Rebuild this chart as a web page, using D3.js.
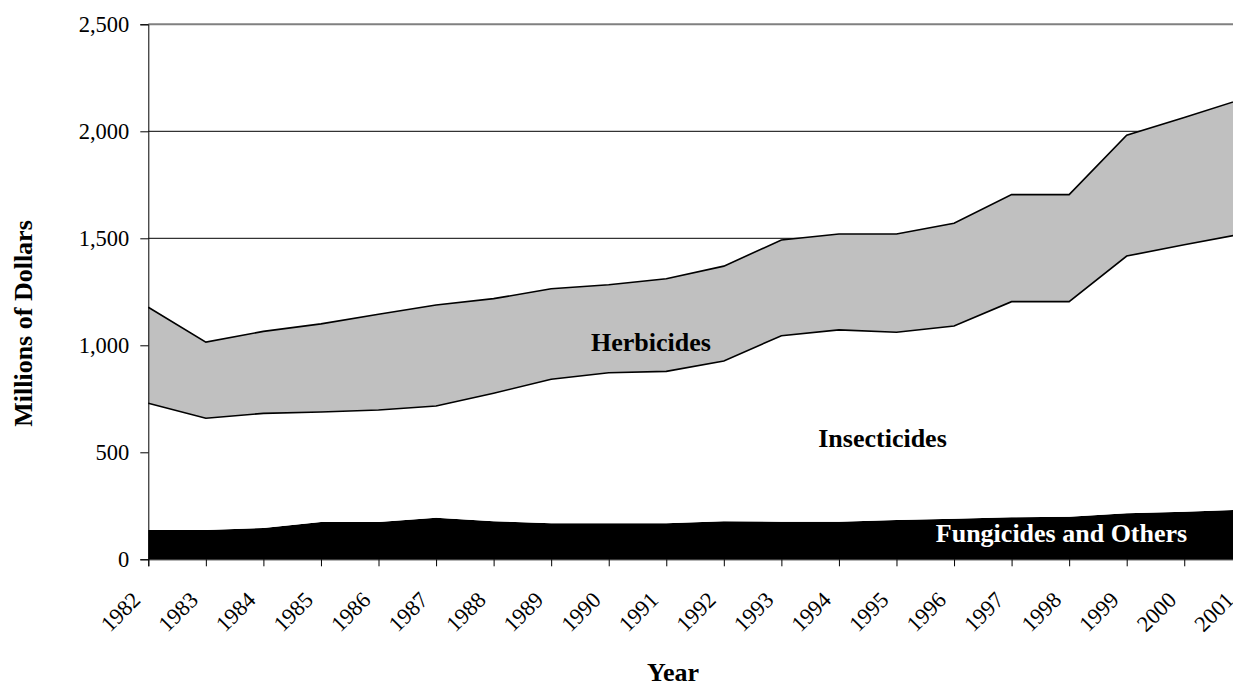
<!DOCTYPE html>
<html lang="en">
<head>
<meta charset="UTF-8">
<title>Pesticide expenditures</title>
<script src="https://cdnjs.cloudflare.com/ajax/libs/d3/7.8.5/d3.min.js"></script>
<style>
    body { margin: 0; background: #fff; }
    svg { display: block; font-family: "Liberation Serif", "Times New Roman", serif; }
</style>
</head>
<body>
<script>
    // values (millions of dollars)
    let years = [1982, 1983, 1984, 1985, 1986, 1987, 1988, 1989, 1990, 1991,
                 1992, 1993, 1994, 1995, 1996, 1997, 1998, 1999, 2000, 2001]
    let fungicides = [137, 137, 146, 174, 174, 194, 178, 168, 168, 168,
                      178, 176, 176, 184, 190, 196, 199, 215, 222, 232]
    let insecticides = [592, 522, 536, 514, 524, 522, 598, 673, 704, 710,
                        749, 869, 896, 877, 900, 1008, 1005, 1202, 1248, 1288]
    let herbicides = [449, 356, 383, 412, 447, 472, 442, 423, 411, 433,
                      443, 447, 448, 459, 480, 500, 500, 565, 595, 630]
    let yTicks = [0, 500, 1000, 1500, 2000, 2500]

    let width = 1233
    let height = 685

    let rows = years.map((y, i) => ({
        year: y,
        fungicides: fungicides[i],
        insecticides: insecticides[i],
        herbicides: herbicides[i]
    }))
    let keys = ["fungicides", "insecticides", "herbicides"]
    let fills = { fungicides: "#000", insecticides: "#fff", herbicides: "#c0c0c0" }
    let series = d3.stack().keys(keys)(rows)

    let x = d3.scaleLinear().domain([1982, 2001]).range([148.3, 1241.8])
    let y = d3.scaleLinear().domain([0, 2500]).range([559.3, 24.3])

    let svg = d3.select("body").append("svg")
        .attr("width", width)
        .attr("height", height)

    // gridlines (top one is grey plot border)
    svg.append("g").selectAll("line")
        .data(yTicks.filter(d => d > 0))
        .join("line")
        .attr("x1", x(1982))
        .attr("x2", width)
        .attr("y1", d => y(d))
        .attr("y2", d => y(d))
        .attr("stroke", d => d === 2500 ? "#808080" : "#000")
        .attr("stroke-width", d => d === 2500 ? 2 : 1)

    let area = d3.area()
        .x(d => x(d.data.year))
        .y0(d => y(d[0]))
        .y1(d => y(d[1]))

    svg.append("g").selectAll("path")
        .data(series)
        .join("path")
        .attr("d", area)
        .attr("fill", d => fills[d.key])

    let line = d3.line()
        .x(d => x(d.data.year))
        .y(d => y(d[1]))

    svg.append("g").selectAll("path")
        .data(series.slice(1))
        .join("path")
        .attr("d", line)
        .attr("fill", "none")
        .attr("stroke", "#000")
        .attr("stroke-width", 1.6)

    // y axis
    let yAxis = svg.append("g")
        .attr("transform", `translate(${x(1982)},0)`)
        .call(d3.axisLeft(y).tickValues(yTicks).tickSize(8).tickPadding(11)
            .tickFormat(d3.format(",")))
    yAxis.attr("font-family", null)
    yAxis.select(".domain").attr("stroke", "#000")
    yAxis.selectAll("text")
        .attr("font-size", "22.5px")
        .attr("fill", "#000")

    // x axis
    let xAxis = svg.append("g")
        .attr("transform", `translate(0,${y(0)})`)
        .call(d3.axisBottom(x).tickValues(years).tickSize(7).tickFormat(d3.format("d")))
    xAxis.attr("font-family", null)
    xAxis.select(".domain").attr("stroke", "#000")
    xAxis.selectAll("text")
        .attr("font-size", "22.5px")
        .attr("fill", "#000")
        .attr("x", 0).attr("y", 0).attr("dy", 0)
        .attr("text-anchor", "end")
        .attr("transform", "translate(-7,42) rotate(-45)")

    // titles
    svg.append("text")
        .attr("transform", "translate(32,323.5) rotate(-90)")
        .attr("text-anchor", "middle")
        .attr("font-size", "26px")
        .attr("font-weight", "bold")
        .text("Millions of Dollars")

    svg.append("text")
        .attr("x", 673)
        .attr("y", 681)
        .attr("text-anchor", "middle")
        .attr("font-size", "26px")
        .attr("font-weight", "bold")
        .text("Year")

    // series labels
    let labels = [
        { text: "Herbicides", x: 651, y: 350.7, color: "#000" },
        { text: "Insecticides", x: 882.5, y: 446.7, color: "#000" },
        { text: "Fungicides and Others", x: 1061.5, y: 541.7, color: "#fff" }
    ]
    svg.append("g").selectAll("text")
        .data(labels)
        .join("text")
        .attr("x", d => d.x)
        .attr("y", d => d.y)
        .attr("text-anchor", "middle")
        .attr("font-size", "26px")
        .attr("font-weight", "bold")
        .attr("fill", d => d.color)
        .text(d => d.text)
</script>
</body>
</html>
